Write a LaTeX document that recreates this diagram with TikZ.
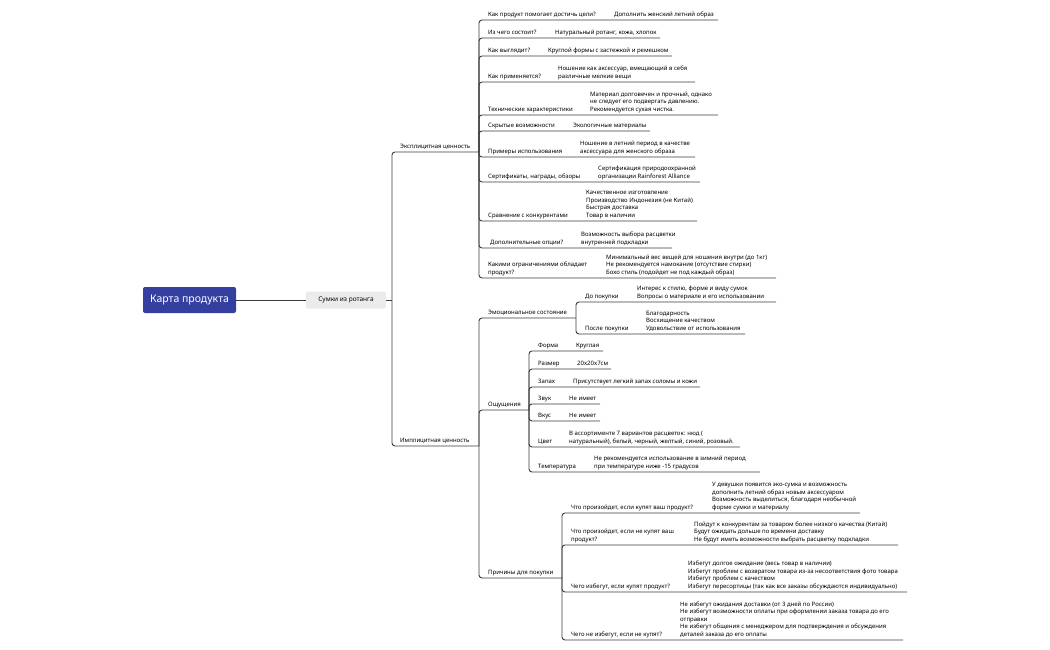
\documentclass[tikz,border=0pt]{standalone}
\usepackage{fontspec}
\setmainfont{Noto Sans}
\usetikzlibrary{positioning}
\definecolor{rootblue}{RGB}{52,63,160}
\definecolor{linegray}{RGB}{60,60,60}
\tikzset{
  root/.style={fill=rootblue, text=white, rounded corners=2pt, minimum width=93pt, minimum height=26pt, font=\fontsize{10.5}{12}\selectfont},
  topic/.style={fill=black!8, rounded corners=2pt, minimum width=80pt, minimum height=17pt, font=\fontsize{6.5}{8}\selectfont},
  lbl/.style={anchor=south west, inner sep=0pt, text depth=0pt, align=left, font=\fontsize{6}{7.6}\selectfont},
  br/.style={draw=linegray, line width=0.9pt, rounded corners=3pt}
}
% name, parent, underline y, label x, label, text x, text, end x
\newcommand\mmleaf[8]{%
  \node[lbl] (#1) at (#4,#3-3.3) {#5};
  \node[lbl] (#1-t) at (#6,#3-3.3) {#7};
  \coordinate (#1-e) at (#8,#3);
  \draw[br] (#2) |- (#1-e);}
\begin{document}
\begin{tikzpicture}[x=1pt,y=-1pt]
  \useasboundingbox (0,0) rectangle (1050,650);

  % Root and topic
  \node[root] (root) at (189.5,300) {Карта продукта};
  \node[topic] (topic) at (346,300) {Сумки из ротанга};
  \draw[br] (root) -- (topic);
  \coordinate (trunk) at (392,300);
  \draw[br] (topic) -- (trunk);

  % Main branches
  \mmleaf{ex}{trunk}{152}{400}{Эксплицитная ценность}{400}{}{479}
  \mmleaf{im}{trunk}{446}{400}{Имплицитная ценность}{400}{}{479}

  % Explicit value
  \mmleaf{e1}{ex-e}{20}{488}{Как продукт помогает достичь цели?}{614}{Дополнить женский летний образ}{718}
  \mmleaf{e2}{ex-e}{38}{488}{Из чего состоит?}{555}{Натуральный ротанг, кожа, хлопок}{660}
  \mmleaf{e3}{ex-e}{56}{488}{Как выглядит?}{548}{Круглой формы с застежкой и ремешком}{672}
  \mmleaf{e4}{ex-e}{82}{488}{Как применяется?}{558}{Ношение как аксессуар, вмещающий в себя\\различные мелкие вещи}{695}
  \mmleaf{e5}{ex-e}{115}{488}{Технические характеристики}{590}{Материал долговечен и прочный, однако\\не следует его подвергать давлению.\\Рекомендуется сухая чистка.}{718}
  \mmleaf{e6}{ex-e}{131}{488}{Скрытые возможности}{573}{Экологичные материалы}{650}
  \mmleaf{e7}{ex-e}{157}{488}{Примеры использования}{580}{Ношение в летний период в качестве\\аксессуара для женского образа}{695}
  \mmleaf{e8}{ex-e}{182}{488}{Сертификаты, награды, обзоры}{598}{Сертификация природоохранной\\организации Rainforest Alliance}{700}
  \mmleaf{e9}{ex-e}{221}{488}{Сравнение с конкурентами}{586}{Качественное изготовление\\Производство Индонезия (не Китай)\\Быстрая доставка\\Товар в наличии}{697}
  \mmleaf{e10}{ex-e}{248}{490}{Дополнительные опции?}{581}{Возможность выбора расцветки\\внутренней подкладки}{672}
  \mmleaf{e11}{ex-e}{278}{488}{Какими ограничениями обладает\\продукт?}{606}{Минимальный вес вещей для ношения внутри (до 1кг)\\Не рекомендуется намокание (отсутствие стирки)\\Бохо стиль (подойдет не под каждый образ)}{776}

  % Implicit value
  \mmleaf{em}{im-e}{318}{488}{Эмоциональное состояние}{488}{}{576}
  \mmleaf{em1}{em-e}{302}{585}{До покупки}{637}{Интерес к стилю, форме и виду сумок\\Вопросы о материале и его использовании}{776}
  \mmleaf{em2}{em-e}{334}{585}{После покупки}{646}{Благодарность\\Восхищение качеством\\Удовольствие от использования}{745}

  \mmleaf{se}{im-e}{410}{488}{Ощущения}{488}{}{529}
  \mmleaf{se1}{se-e}{351}{538}{Форма}{576}{Круглая}{603}
  \mmleaf{se2}{se-e}{369}{538}{Размер}{577}{20x20x7см}{611}
  \mmleaf{se3}{se-e}{387}{538}{Запах}{573}{Присутствует легкий запах соломы и кожи}{700}
  \mmleaf{se4}{se-e}{404}{538}{Звук}{569}{Не имеет}{600}
  \mmleaf{se5}{se-e}{421}{538}{Вкус}{569}{Не имеет}{600}
  \mmleaf{se6}{se-e}{447}{538}{Цвет}{569}{В ассортименте 7 вариантов расцветок: нюд (\\натуральный), белый, черный, желтый, синий, розовый.}{740}
  \mmleaf{se7}{se-e}{472}{538}{Температура}{594}{Не рекомендуется использование в зимний период\\при температуре ниже -15 градусов}{760}

  \mmleaf{re}{im-e}{578}{488}{Причины для покупки}{488}{}{562}
  \mmleaf{re1}{re-e}{513}{571}{Что произойдет, если купят ваш продукт?}{712}{У девушки появится эко-сумка и возможность\\дополнить летний образ новым аксессуаром\\Возможность выделиться, благодаря необычной\\форме сумки и материалу}{860}
  \mmleaf{re2}{re-e}{545}{571}{Что произойдет, если не купят ваш\\продукт?}{694}{Пойдут к конкурентам за товаром более низкого качества (Китай)\\Будут ожидать дольше по времени доставку\\Не будут иметь возможности выбрать расцветку подкладки}{898}
  \mmleaf{re3}{re-e}{592}{571}{Чего избегут, если купят продукт?}{688}{Избегут долгое ожидание (весь товар в наличии)\\Избегут проблем с возвратом товара из-за несоответствия фото товара\\Избегут проблем с качеством\\Избегут пересортицы (так как все заказы обсуждаются индивидуально)}{907}
  \mmleaf{re4}{re-e}{640}{571}{Чего не избегут, если не купят?}{680}{Не избегут ожидания доставки (от 3 дней по России)\\Не избегут возможности оплаты при оформлении заказа товара до его\\отправки\\Не избегут общения с менеджером для подтверждения и обсуждения\\деталей заказа до его оплаты}{903}
\end{tikzpicture}
\end{document}
